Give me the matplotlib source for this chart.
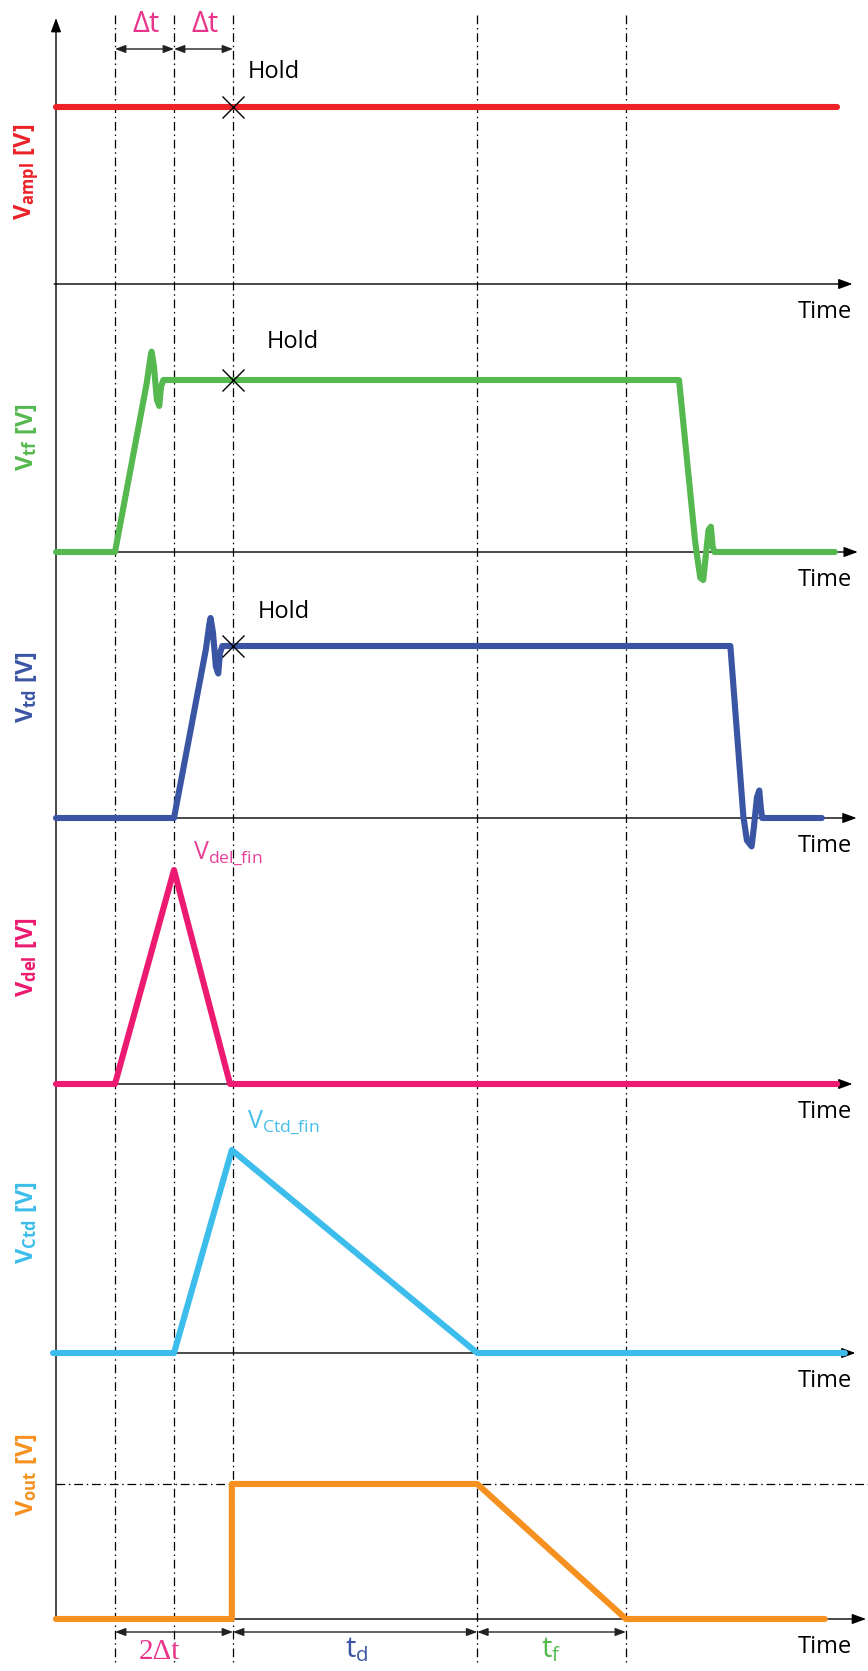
import matplotlib.pyplot as plt

plt.rcParams['font.family'] = ['Open Sans', 'DejaVu Sans']
plt.rcParams['mathtext.fontset'] = 'custom'
plt.rcParams['mathtext.rm'] = 'Open Sans'
plt.rcParams['mathtext.bf'] = 'Open Sans:bold'
plt.rcParams['mathtext.it'] = 'Open Sans:italic'

# time in units of delta-t, 0 = start of the time axis
t_marks = [1, 2, 3, 7.14, 9.66]   # dt, 2dt, hold, end of td, end of tf

ampl_t = [0, 13.24]
ampl_v = [1.03, 1.03]

tf_t = [0, 1.0, 1.537, 1.60, 1.62, 1.66, 1.71, 1.75, 1.78, 1.82,
        10.56, 10.83, 10.86, 10.92, 10.97, 11.02, 11.06, 11.10, 11.13, 11.16, 13.2]
tf_v = [0, 0, 0.98, 1.13, 1.165, 1.08, 0.884, 0.849, 0.961, 1.0,
        1.0, 0.07, -0.01, -0.15, -0.163, 0, 0.128, 0.147, 0.03, 0, 0]

td_t = [0, 2.0, 2.54, 2.60, 2.62, 2.66, 2.71, 2.75, 2.78, 2.82,
        11.43, 11.65, 11.71, 11.79, 11.83, 11.88, 11.92, 11.95, 11.97, 12.98]
td_v = [0, 0, 0.98, 1.13, 1.163, 1.08, 0.88, 0.84, 0.96, 1.0,
        1.0, 0.01, -0.13, -0.165, -0.05, 0.12, 0.16, 0.047, 0.0, 0]

del_t = [0, 1.0, 2.0, 2.95, 13.24]
del_v = [0, 0, 1.244, 0, 0]

ctd_t = [-0.05, 2.0, 2.98, 7.14, 13.37]
ctd_v = [0, 0, 1.18, 0, 0]

out_t = [0, 2.98, 2.98, 7.14, 9.66, 13.03]
out_v = [0, 0, 0.785, 0.785, 0, 0]

# levels held at the hold instant (ampl, tf, td)
hold_level = [ampl_v[0], tf_v[9], td_v[9]]

signals = [(ampl_t, ampl_v), (tf_t, tf_v), (td_t, td_v),
           (del_t, del_v), (ctd_t, ctd_v), (out_t, out_v)]
colors = ['#ec2227', '#55b94f', '#3a55a4', '#ec1a70', '#3dbdeb', '#f6901e']
ylabels = [r'$\mathbf{V_{ampl}\ [V]}$', r'$\mathbf{V_{tf}\ [V]}$', r'$\mathbf{V_{td}\ [V]}$',
           r'$\mathbf{V_{del}\ [V]}$', r'$\mathbf{V_{Ctd}\ [V]}$', r'$\mathbf{V_{out}\ [V]}$']
ylabel_v = [0.65, 0.67, 0.76, 0.74, 0.76, 0.84]
axis_end = [13.5, 13.59, 13.57, 13.5, 13.55, 13.73]
hold_pos = [(3.25, 1.23), (3.58, 1.22), (3.42, 1.20)]

W, H = 868, 1671
PX_PER_T = 59.0
T0_PX = 56.0
PX_PER_V = 172.0
base_px = [284, 552, 818, 1084, 1353, 1619]
xlim = (-T0_PX / PX_PER_T, (W - T0_PX) / PX_PER_T)

fig = plt.figure(figsize=(W / 100, H / 100), dpi=100)

# guide lines, time axis and dimension arrows live on a full-figure overlay
ov = fig.add_axes([0, 0, 1, 1], zorder=0)
ov.set_xlim(*xlim)
ov.set_ylim(H, 0)
ov.set_axis_off()

dashdot = (0, (7, 3, 1.2, 3))
ov.vlines(t_marks, 15, 1665, colors='black', linestyles=[dashdot], lw=0.9)

arrow_kw = dict(arrowstyle='-|>,head_length=0.6,head_width=0.22', lw=1.0,
                color='black', mutation_scale=14, shrinkA=0, shrinkB=0)
dim_kw = dict(arrowstyle='<|-|>,head_length=0.45,head_width=0.17', lw=1.0,
              color='#222222', mutation_scale=14, shrinkA=0, shrinkB=0)

ov.annotate('', xy=(0, 18), xytext=(0, base_px[-1]), arrowprops=arrow_kw)

# top: delta-t spans
for a, b in [(t_marks[0], t_marks[1]), (t_marks[1], t_marks[2])]:
    ov.annotate('', xy=(b, 49), xytext=(a, 49), arrowprops=dim_kw)
    ov.text((a + b) / 2 + 0.03, 24, 'Δt', color='#e8348b', fontsize=21,
            ha='center', va='center')

# bottom: 2dt, td, tf spans
spans = [(t_marks[0], t_marks[2]), (t_marks[2], t_marks[3]), (t_marks[3], t_marks[4])]
for a, b in spans:
    ov.annotate('', xy=(b, 1632), xytext=(a, 1632), arrowprops=dim_kw)
ov.text(1.75, 1652, '2Δt', color='#e8348b', fontsize=21, ha='center', va='center',
        family=['Liberation Serif', 'DejaVu Serif'])
ov.text(5.1, 1650, r't$_\mathregular{d}$', color='#3a55a4', fontsize=21,
        ha='center', va='center')
ov.text(8.4, 1650, r't$_\mathregular{f}$', color='#55b94f', fontsize=21,
        ha='center', va='center')

below, above = 45, 255
axes = []
for i, ((t, v), c) in enumerate(zip(signals, colors)):
    bottom = (H - base_px[i] - below) / H
    ax = fig.add_axes([0, bottom, 1, (below + above) / H], zorder=1)
    ax.set_xlim(*xlim)
    ax.set_ylim(-below / PX_PER_V, above / PX_PER_V)
    ax.set_axis_off()
    ax.annotate('', xy=(axis_end[i], 0), xytext=(-0.03, 0), arrowprops=arrow_kw)
    ax.plot(t, v, color=c, lw=4.4, solid_capstyle='round', solid_joinstyle='round',
            zorder=3)
    ax.text(13.5, -0.165, 'Time', fontsize=17, ha='right', va='center')
    ax.text(-0.5, ylabel_v[i], ylabels[i], color=c, fontsize=17, rotation=90,
            ha='center', va='center')
    axes.append(ax)

# hold instants
for ax, lvl, (hx, hy) in zip(axes[:3], hold_level, hold_pos):
    ax.plot([t_marks[2]], [lvl], marker='x', ms=16, mew=1.0, color='black', zorder=4)
    ax.text(hx, hy, 'Hold', fontsize=17, ha='left', va='center')

axes[3].text(2.32, 1.34, r'V$_\mathregular{del\_fin}$', color='#e8409a', fontsize=18,
             ha='left', va='center')
axes[4].text(3.24, 1.34, r'V$_\mathregular{Ctd\_fin}$', color='#45bfea', fontsize=18,
             ha='left', va='center')
axes[5].hlines(max(out_v), 0, 13.9, colors='black', linestyles=[dashdot], lw=0.9)

fig.savefig('out.png', dpi=100)
